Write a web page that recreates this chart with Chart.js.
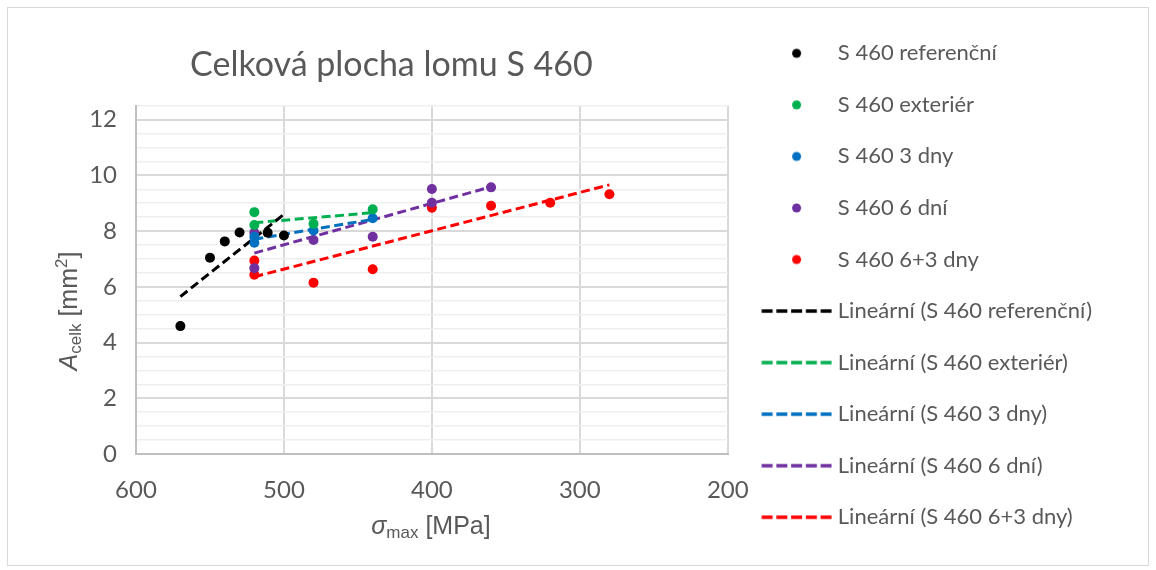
<!DOCTYPE html>
<html>
<head>
<meta charset="utf-8">
<script src="https://cdn.jsdelivr.net/npm/chart.js@4.4.1/dist/chart.umd.min.js"></script>
<style>
  body { margin: 0; background: #fff; }
  #wrap { position: absolute; left: 7px; top: 7px; width: 1142px; height: 559px; box-sizing: border-box; border: 1px solid #d9d9d9; }
</style>
</head>
<body>
<div id="wrap"><canvas id="chart"></canvas></div>
<script>
// measured points (sigma_max [MPa], A_celk [mm2])
const refX = [570, 550, 540, 530, 511, 500];
const refY = [4.59, 7.04, 7.63, 7.95, 7.94, 7.84];
const extX = [520, 520, 480, 440];
const extY = [8.68, 8.22, 8.26, 8.78];
const d3X = [520, 520, 480, 440];
const d3Y = [7.58, 7.80, 8.02, 8.46];
const d6X = [520, 520, 480, 440, 400, 400, 360];
const d6Y = [7.94, 6.67, 7.68, 7.80, 9.51, 9.02, 9.57];
const d63X = [520, 520, 480, 440, 400, 360, 320, 280];
const d63Y = [6.94, 6.43, 6.15, 6.63, 8.84, 8.91, 9.02, 9.32];

// trend line end points
const refTrendX = [570, 500];
const refTrendY = [5.65, 8.60];
const extTrendX = [520, 440];
const extTrendY = [8.30, 8.66];
const d3TrendX = [520, 440];
const d3TrendY = [7.71, 8.42];
const d6TrendX = [520, 360];
const d6TrendY = [7.21, 9.59];
const d63TrendX = [520, 280];
const d63TrendY = [6.36, 9.66];

const seriesNames = ['S 460 referenční', 'S 460 exteriér', 'S 460 3 dny', 'S 460 6 dní', 'S 460 6+3 dny'];
const colors = ['#000000', '#00b050', '#0070c0', '#7030a0', '#ff0000'];

const xTicks = [600, 500, 400, 300, 200];
const yTickLabels = [0, 2, 4, 6, 8, 10, 12];

const toPts = (xs, ys) => xs.map((x, i) => ({x: x, y: ys[i]}));

const pointSets = [[refX, refY], [extX, extY], [d3X, d3Y], [d6X, d6Y], [d63X, d63Y]];
const trendSets = [[refTrendX, refTrendY], [extTrendX, extTrendY], [d3TrendX, d3TrendY], [d6TrendX, d6TrendY], [d63TrendX, d63TrendY]];

const TEXT = '#595959';
const ICON_SHIFT = 4.5;

function makeIcon(color, isLine) {
  const c = document.createElement('canvas');
  c.width = 80; c.height = 12;
  const g = c.getContext('2d');
  const cx = 40 + ICON_SHIFT;
  if (isLine) {
    g.strokeStyle = color;
    g.lineWidth = 3.5;
    g.setLineDash([11, 3.75]);
    g.beginPath(); g.moveTo(cx - 35, 6); g.lineTo(cx + 35, 6); g.stroke();
  } else {
    g.fillStyle = color;
    g.beginPath(); g.arc(cx, 6, 4.5, 0, Math.PI * 2); g.fill();
  }
  return c;
}

const datasets = [];
const icons = [];
pointSets.forEach((s, i) => {
  datasets.push({
    label: seriesNames[i],
    data: toPts(s[0], s[1]),
    backgroundColor: colors[i],
    borderColor: colors[i],
    pointRadius: 5,
    pointBorderWidth: 0,
    showLine: false
  });
  icons.push(makeIcon(colors[i], false));
});
trendSets.forEach((s, i) => {
  datasets.push({
    label: 'Lineární (' + seriesNames[i] + ')',
    data: toPts(s[0], s[1]),
    borderColor: colors[i],
    backgroundColor: colors[i],
    borderWidth: 3,
    borderDash: [9, 4.5],
    pointRadius: 0,
    showLine: true
  });
  icons.push(makeIcon(colors[i], true));
});

// title is centred over plot + axis title in the original, not the plot only
const titleShift = {
  id: 'titleShift',
  afterLayout(chart) {
    chart.titleBlock.left -= 40.5;
    chart.titleBlock.right -= 40.5;
  }
};

function drawRich(ctx, parts, cx, cy, rotate) {
  ctx.save();
  ctx.translate(cx, cy);
  if (rotate) ctx.rotate(-Math.PI / 2);
  ctx.textBaseline = 'alphabetic';
  let total = 0;
  parts.forEach(p => { ctx.font = p.font; total += ctx.measureText(p.t).width; });
  let x = -total / 2;
  ctx.fillStyle = TEXT;
  parts.forEach(p => {
    ctx.font = p.font;
    ctx.fillText(p.t, x, p.dy);
    x += ctx.measureText(p.t).width;
  });
  ctx.restore();
}

const axisTitles = {
  id: 'axisTitles',
  afterDraw(chart) {
    const ctx = chart.ctx;
    const big = '25px "Liberation Sans"';
    const small = '17px "Liberation Sans"';
    drawRich(ctx, [
      {t: 'σ', font: 'italic ' + big, dy: 9},
      {t: 'max', font: small, dy: 13},
      {t: ' [MPa]', font: big, dy: 9}
    ], 423, 517, false);
    drawRich(ctx, [
      {t: 'A', font: 'italic ' + big, dy: 9},
      {t: 'celk', font: small, dy: 13},
      {t: ' [mm', font: big, dy: 9},
      {t: '2', font: small, dy: -1},
      {t: ']', font: big, dy: 9}
    ], 60, 303, true);
  }
};

new Chart(document.getElementById('chart'), {
  type: 'scatter',
  data: { datasets: datasets },
  plugins: [titleShift, axisTitles],
  options: {
    responsive: true,
    maintainAspectRatio: false,
    animation: false,
    layout: { padding: { top: 4.75, right: 46, bottom: 0, left: 0 } },
    plugins: {
      tooltip: { enabled: false },
      title: {
        display: true,
        fullSize: false,
        text: 'Celková plocha lomu S 460',
        color: TEXT,
        font: { family: 'Lato', size: 34, weight: 'normal' },
        padding: { top: 31.85, bottom: 20.3 }
      },
      legend: {
        position: 'right',
        align: 'start',
        maxWidth: 375,
        labels: {
          usePointStyle: true,
          pointStyleWidth: 69.5,
          padding: 29.55,
          color: TEXT,
          font: { family: 'Lato', size: 22 },
          generateLabels(chart) {
            const items = Chart.defaults.plugins.legend.labels.generateLabels(chart);
            items.forEach((it, i) => { it.pointStyle = icons[i]; });
            return items;
          }
        }
      }
    },
    scales: {
      x: {
        type: 'linear',
        reverse: true,
        min: 200,
        max: 600,
        afterFit(scale) { scale.height = 111; },
        afterBuildTicks(scale) { scale.ticks = xTicks.map(v => ({value: v})); },
        ticks: { color: TEXT, padding: 22, font: { family: 'Lato', size: 24 } },
        grid: { color: '#d9d9d9', lineWidth: 2, drawTicks: false },
        border: { color: '#bfbfbf', width: 2 }
      },
      y: {
        type: 'linear',
        min: 0,
        max: 12.5,
        afterFit(scale) { scale.width = 128; },
        ticks: {
          stepSize: 0.5,
          autoSkip: false,
          color: TEXT,
          padding: 19,
          font: { family: 'Lato', size: 24 },
          callback: v => yTickLabels.includes(v) ? String(v) : ''
        },
        grid: {
          drawTicks: false,
          color: c => (c.tick && yTickLabels.includes(c.tick.value)) ? '#d9d9d9' : '#efefef',
          lineWidth: c => (c.tick && yTickLabels.includes(c.tick.value)) ? 2 : 1.5
        },
        border: { color: '#bfbfbf', width: 2 }
      }
    }
  }
});
</script>
</body>
</html>
